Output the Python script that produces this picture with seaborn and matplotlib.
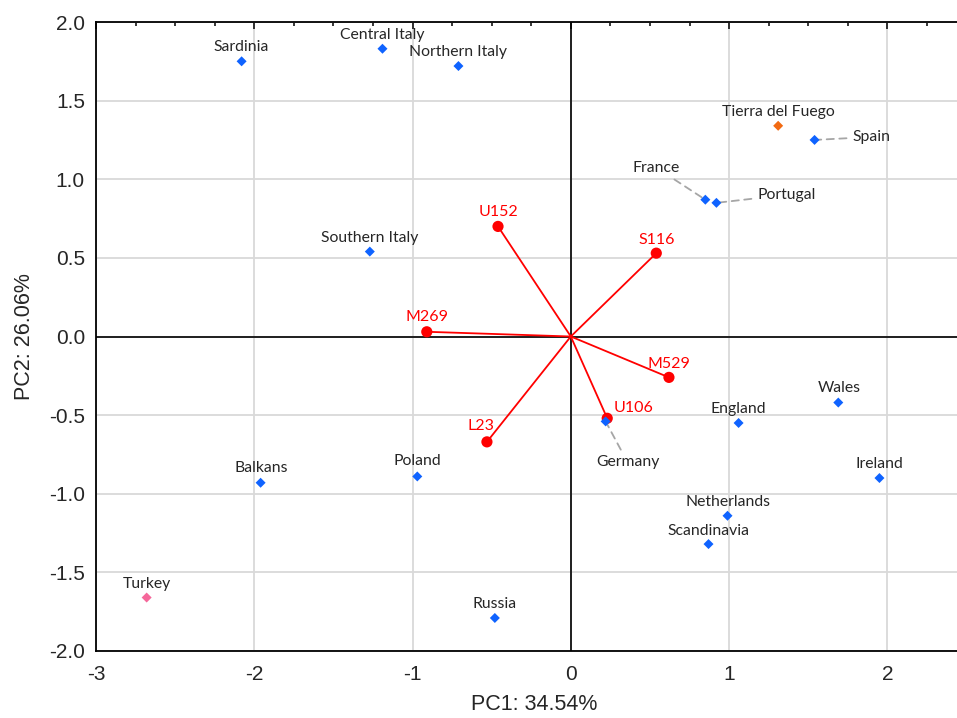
import matplotlib
matplotlib.use('Agg')
import matplotlib.pyplot as plt
import matplotlib.ticker as mticker
import seaborn as sns
import numpy as np
import pandas as pd

# PCA scores of the populations
countries = ['Sardinia', 'Central Italy', 'Northern Italy', 'Southern Italy', 'Tierra del Fuego',
             'Spain', 'France', 'Portugal', 'Wales', 'England', 'Ireland', 'Germany',
             'Netherlands', 'Scandinavia', 'Poland', 'Balkans', 'Turkey', 'Russia']
pc1 = [-2.08, -1.19, -0.71, -1.27, 1.31, 1.54, 0.85, 0.92, 1.69, 1.06, 1.95, 0.22,
       0.99, 0.87, -0.97, -1.96, -2.68, -0.48]
pc2 = [1.75, 1.83, 1.72, 0.54, 1.34, 1.25, 0.87, 0.85, -0.42, -0.55, -0.90, -0.54,
       -1.14, -1.32, -0.89, -0.93, -1.66, -1.79]
groups = ['Europe'] * 4 + ['Tierra del Fuego'] + ['Europe'] * 11 + ['Turkey', 'Europe']

# loadings of the haplogroups
markers = ['U152', 'S116', 'M269', 'M529', 'U106', 'L23']
load1 = [-0.46, 0.54, -0.91, 0.62, 0.23, -0.53]
load2 = [0.70, 0.53, 0.03, -0.26, -0.52, -0.67]

# label placement (offset pixels from the point)
lab_off = {'Sardinia': (0, 14), 'Central Italy': (0, 14), 'Northern Italy': (0, 14),
           'Southern Italy': (0, 14), 'Tierra del Fuego': (0, 14), 'Wales': (1, 15),
           'England': (0, 14), 'Ireland': (0, 14), 'Netherlands': (0, 14),
           'Scandinavia': (0, 13), 'Poland': (0, 15), 'Balkans': (1, 15),
           'Turkey': (0, 14), 'Russia': (0, 14)}
leader_off = {'Spain': (38, 3, 'left'), 'France': (-49, 32, 'center'),
              'Portugal': (41, 8, 'left'), 'Germany': (22, -41, 'center')}
red_off = {'U152': (0, 14), 'S116': (0, 13), 'M269': (0, 15), 'M529': (0, 13),
           'U106': (26, 10), 'L23': (-6, 16)}

sns.set_style('white')
plt.rcParams['font.family'] = ['Liberation Sans', 'DejaVu Sans']
plt.rcParams['axes.unicode_minus'] = False

scores = pd.DataFrame({'country': countries, 'PC1': pc1, 'PC2': pc2, 'group': groups})
loads = pd.DataFrame({'marker': markers, 'PC1': load1, 'PC2': load2})

fig = plt.figure(figsize=(9.57, 7.18), dpi=100)
ax = fig.add_axes([96 / 957, 67 / 718, 861 / 957, 629 / 718])

ax.set_xlim(-3, 2.44)
ax.set_ylim(-2, 2)
ax.xaxis.set_major_locator(mticker.MultipleLocator(1))
ax.xaxis.set_minor_locator(mticker.MultipleLocator(0.25))
ax.yaxis.set_major_locator(mticker.MultipleLocator(0.5))
ax.yaxis.set_minor_locator(mticker.MultipleLocator(0.1))
ax.yaxis.set_major_formatter(mticker.FormatStrFormatter('%.1f'))
ax.grid(True, which='major', color='#d9d9d9', lw=1.3, zorder=0)
ax.set_axisbelow(True)
ax.axhline(0, color='black', lw=1.2, zorder=1)
ax.axvline(0, color='black', lw=1.2, zorder=1)

for s in ['left', 'bottom', 'top']:
    ax.spines[s].set_color('black')
    ax.spines[s].set_linewidth(1.3)
ax.spines['right'].set_visible(False)
ax.tick_params(which='both', direction='in', top=True, right=False, color='black', width=1.1)
ax.tick_params(which='major', length=5, labelsize=15, pad=10)
ax.tick_params(which='minor', length=3)
ax.tick_params(axis='y', which='major', pad=8)

# loading vectors
for _, r in loads.iterrows():
    ax.plot([0, r['PC1']], [0, r['PC2']], color='#ff0000', lw=1.3, zorder=2)
sns.scatterplot(data=loads, x='PC1', y='PC2', color='#ff0000', s=65, edgecolor='none',
                ax=ax, zorder=3, legend=False)
for _, r in loads.iterrows():
    dx, dy = red_off[r['marker']]
    ax.annotate(r['marker'], (r['PC1'], r['PC2']), xytext=(dx, dy), textcoords='offset pixels',
                ha='center', va='center', color='#ff0000', fontsize=11.5, family=['Lato', 'DejaVu Sans'])

# population scores
pal = {'Europe': '#0f63ff', 'Tierra del Fuego': '#f26a12', 'Turkey': '#f5679a'}
sns.scatterplot(data=scores, x='PC1', y='PC2', hue='group', palette=pal, marker='D', s=26,
                edgecolor='none', ax=ax, zorder=4, legend=False)
for _, r in scores.iterrows():
    c = r['country']
    if c in leader_off:
        dx, dy, ha = leader_off[c]
        ax.annotate(c, (r['PC1'], r['PC2']), xytext=(dx, dy), textcoords='offset pixels',
                    ha=ha, va='center', fontsize=11.3, family=['Lato', 'DejaVu Sans'],
                    arrowprops=dict(arrowstyle='-', color='#a6a6a6', lw=1.3, ls=(0, (4, 3)),
                                    shrinkA=2, shrinkB=2))
    else:
        dx, dy = lab_off[c]
        ax.annotate(c, (r['PC1'], r['PC2']), xytext=(dx, dy), textcoords='offset pixels',
                    ha='center', va='center', fontsize=11.3, family=['Lato', 'DejaVu Sans'])

ax.set_xlabel('PC1: 34.54%', fontsize=15.5)
ax.xaxis.set_label_coords(0.509, -0.068)
ax.set_ylabel('PC2: 26.06%', fontsize=15.5, labelpad=10)

fig.savefig('out.png', dpi=100)
